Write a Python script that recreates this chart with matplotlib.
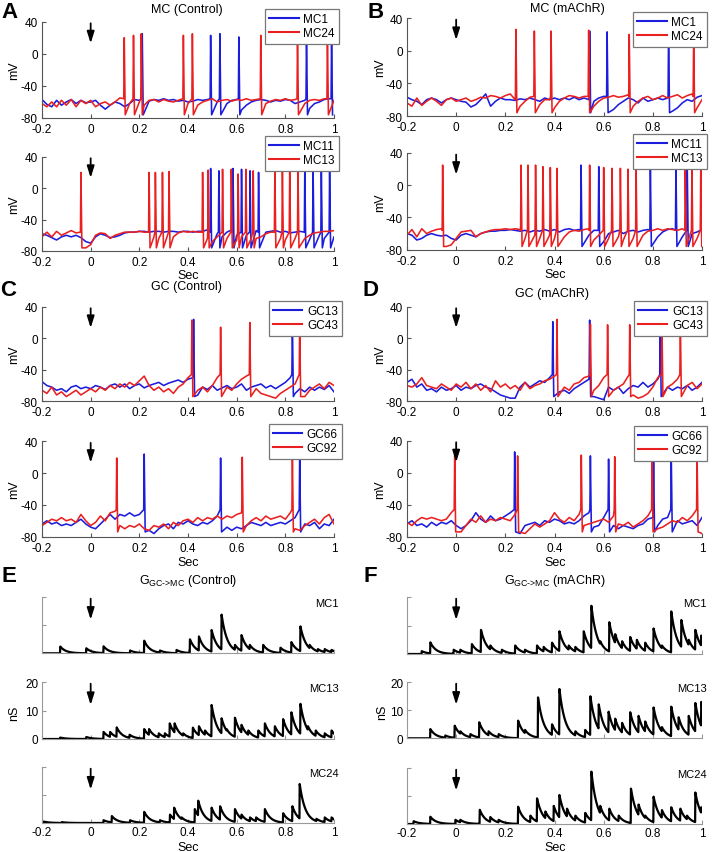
import numpy as np
import matplotlib
matplotlib.use('Agg')
import matplotlib.pyplot as plt
from matplotlib.lines import Line2D

plt.rcParams['font.family'] = ['Liberation Sans', 'DejaVu Sans']
plt.rcParams['mathtext.fontset'] = 'custom'
plt.rcParams['mathtext.rm'] = 'Liberation Sans'

W, H = 712, 853
BLUE = '#1c1cdc'
RED = '#ea2020'

# baseline membrane potential sampled every 20 ms from -0.2 to 1.0 s
t_base = np.round(np.arange(-0.2, 1.0001, 0.02), 3)

# ---- A: MC (Control) ----
mc1_ctrl = [-57, -63, -66, -58, -64, -60, -57, -62, -58, -61,
            -60, -58, -64, -69, -64, -60, -62, -66, -62, -57,
            -58, -64, -59, -57, -58, -56, -58, -57, -59, -58,
            -60, -59, -57, -58, -57, -62, -60, -68, -62, -58,
            -57, -70, -64, -60, -58, -57, -58, -60, -58, -59,
            -57, -58, -62, -60, -58, -68, -62, -60, -57, -56,
            -74]
mc1_ctrl_spk = [0.212, 0.493, 0.531, 0.609, 0.887, 0.99]
mc1_ctrl_pk = [25, 23, 25, 21, 22, 22]

mc24_ctrl = [-62, -66, -60, -66, -58, -64, -57, -66, -58, -62,
             -58, -66, -62, -60, -64, -60, -55, -57, -62, -58,
             -60, -64, -58, -57, -60, -57, -59, -60, -58, -57,
             -62, -60, -64, -60, -58, -56, -60, -58, -57, -59,
             -57, -58, -56, -58, -57, -56, -62, -59, -57, -58,
             -56, -58, -57, -60, -62, -58, -57, -58, -56, -60,
             -58]
mc24_ctrl_spk = [0.138, 0.176, 0.208, 0.381, 0.418, 0.699, 0.85, 0.973]
mc24_ctrl_pk = [20, 23, 25, 23, 25, 23, 22, 22]

mc11_ctrl = [-58, -60, -63, -66, -62, -60, -62, -60, -63, -68,
             -70, -62, -58, -60, -63, -62, -60, -57, -56, -56,
             -55, -55, -56, -55, -55, -56, -55, -55, -56, -55,
             -55, -56, -55, -55, -53, -60, -58, -62, -56, -53,
             -60, -55, -60, -57, -54, -60, -56, -55, -54, -56,
             -55, -57, -56, -55, -54, -65, -62, -60, -64, -58,
             -62]
mc11_ctrl_spk = [0.493, 0.527, 0.585, 0.62, 0.655, 0.69, 0.88, 0.914, 0.948, 0.982]
mc11_ctrl_pk = [25, 22, 25, 24, 22, 20, 24, 24, 22, 24]

mc13_ctrl = [-62, -56, -62, -55, -60, -57, -54, -57, -57, -76,
             -72, -60, -57, -58, -64, -60, -58, -56, -56, -56,
             -55, -56, -56, -62, -64, -60, -60, -62, -57, -55,
             -56, -55, -56, -60, -64, -68, -62, -58, -64, -60,
             -66, -62, -60, -64, -64, -62, -58, -56, -60, -64,
             -66, -60, -64, -70, -64, -60, -57, -56, -55, -55,
             -54]
mc13_ctrl_spk = [-0.04, 0.24, 0.266, 0.295, 0.322, 0.46, 0.483, 0.542, 0.578,
                 0.606, 0.638, 0.668, 0.757, 0.788, 0.818, 0.852]
mc13_ctrl_pk = [20, 20, 20, 20, 21, 20, 23, 24, 24, 18, 24, 22, 23, 21, 22, 22]

# ---- B: MC (mAChR) ----
mc1_ach = [-57, -60, -62, -66, -60, -58, -60, -64, -60, -58,
           -60, -62, -63, -69, -66, -60, -53, -68, -62, -58,
           -60, -60, -61, -59, -60, -58, -60, -62, -58, -60,
           -58, -60, -58, -60, -57, -60, -58, -60, -62, -58,
           -56, -60, -72, -66, -62, -58, -60, -64, -58, -62,
           -60, -58, -60, -58, -74, -70, -64, -60, -62, -57,
           -55]
mc1_ach_spk = [0.543, 0.614, 0.864]
mc1_ach_pk = [24, 23, 22]

mc24_ach = [-64, -68, -58, -67, -62, -58, -62, -67, -60, -58,
            -62, -60, -58, -62, -60, -57, -58, -55, -56, -58,
            -55, -53, -60, -68, -62, -57, -60, -66, -60, -60,
            -70, -62, -58, -55, -56, -58, -56, -60, -68, -62,
            -58, -57, -55, -57, -56, -54, -68, -62, -58, -56,
            -60, -58, -55, -58, -56, -54, -58, -55, -53, -70,
            -60]
mc24_ach_spk = [0.243, 0.318, 0.386, 0.539, 0.704, 0.966]
mc24_ach_pk = [26, 24, 24, 25, 20, 20]

mc11_ach = [-60, -62, -68, -66, -62, -60, -62, -63, -62, -66,
            -68, -62, -60, -62, -64, -60, -58, -57, -57, -56,
            -56, -55, -56, -57, -56, -58, -56, -57, -55, -57,
            -55, -58, -55, -54, -56, -55, -72, -62, -56, -60,
            -70, -60, -58, -56, -60, -57, -56, -58, -56, -55,
            -75, -64, -58, -55, -54, -60, -64, -60, -60, -58,
            -55]
mc11_ach_spk = [0.508, 0.58, 0.79, 0.894, 0.94]
mc11_ach_pk = [25, 23, 24, 24, 24]

mc13_ach = [-62, -55, -64, -54, -60, -57, -55, -54, -76, -74,
            -66, -58, -57, -56, -64, -60, -58, -56, -55, -55,
            -54, -55, -54, -55, -66, -60, -62, -66, -60, -62,
            -66, -72, -64, -58, -56, -57, -55, -54, -68, -62,
            -60, -66, -60, -64, -68, -60, -66, -70, -62, -57,
            -56, -54, -56, -54, -55, -56, -54, -66, -60, -66,
            -75]
mc13_ach_spk = [-0.055, 0.264, 0.292, 0.323, 0.353, 0.383, 0.41, 0.543, 0.6,
                0.634, 0.668, 0.699, 0.732, 0.932, 0.959, 0.995]
mc13_ach_pk = [25, 25, 25, 25, 23, 22, 21, 25, 22, 21, 21, 20, 20, 22, 22, 22]

# ---- C: GC (Control) ----
gc13_ctrl = [-55, -60, -62, -66, -64, -68, -62, -60, -64, -62,
             -64, -60, -62, -65, -60, -58, -62, -58, -64, -60,
             -58, -63, -60, -58, -56, -60, -57, -55, -53, -56,
             -52, -50, -72, -62, -65, -60, -66, -63, -60, -64,
             -62, -58, -66, -62, -60, -58, -63, -60, -64, -60,
             -56, -50, -70, -64, -68, -62, -66, -62, -65, -60,
             -68]
gc13_ctrl_spk = [0.423, 0.829]
gc13_ctrl_pk = [24, 22]

gc43_ctrl = [-66, -70, -62, -72, -68, -74, -70, -66, -72, -68,
             -64, -68, -62, -66, -60, -64, -58, -62, -56, -60,
             -54, -48, -60, -66, -62, -68, -64, -70, -62, -58,
             -50, -72, -66, -62, -68, -60, -50, -70, -62, -66,
             -58, -52, -48, -72, -64, -70, -72, -74, -76, -70,
             -66, -62, -58, -52, -74, -66, -62, -58, -64, -56,
             -60]
gc43_ctrl_spk = [0.416, 0.534, 0.654, 0.859]
gc43_ctrl_pk = [23, 14, 20, 22]

gc66_ctrl = [-64, -60, -64, -62, -66, -64, -66, -62, -58, -64,
             -68, -70, -64, -58, -52, -58, -52, -54, -50, -54,
             -52, -50, -72, -76, -70, -66, -64, -70, -62, -64,
             -60, -64, -66, -62, -64, -60, -54, -66, -68, -72,
             -68, -70, -66, -62, -64, -66, -62, -66, -64, -62,
             -64, -60, -56, -54, -64, -66, -62, -70, -64, -66,
             -58]
gc66_ctrl_spk = [0.22, 0.534, 0.859]
gc66_ctrl_pk = [24, 19, 20]

gc92_ctrl = [-66, -62, -58, -60, -56, -60, -58, -62, -52, -60,
             -66, -62, -54, -60, -50, -48, -66, -70, -66, -68,
             -64, -70, -72, -66, -68, -64, -70, -62, -66, -60,
             -58, -62, -56, -60, -56, -58, -54, -58, -54, -56,
             -52, -50, -66, -60, -56, -60, -54, -58, -56, -54,
             -58, -50, -70, -72, -66, -62, -58, -64, -56, -52,
             -64]
gc92_ctrl_spk = [0.107, 0.623, 0.829]
gc92_ctrl_pk = [19, 20, 21]

# ---- D: GC (mAChR) ----
gc13_ach = [-56, -52, -62, -58, -66, -64, -68, -62, -66, -64,
            -60, -66, -62, -64, -60, -58, -62, -64, -68, -72,
            -74, -76, -76, -62, -56, -62, -58, -54, -56, -50,
            -72, -68, -66, -70, -64, -60, -56, -52, -74, -76,
            -78, -62, -66, -62, -70, -64, -60, -62, -56, -62,
            -58, -52, -68, -62, -66, -62, -64, -60, -66, -62,
            -56]
gc13_ach_spk = [0.393, 0.543, 0.83]
gc13_ach_pk = [21, 23, 22]

gc43_ach = [-60, -62, -58, -50, -60, -62, -64, -58, -62, -66,
            -58, -62, -56, -64, -58, -66, -60, -68, -54, -62,
            -58, -64, -60, -66, -56, -64, -60, -58, -54, -52,
            -48, -66, -62, -66, -58, -56, -50, -48, -66, -60,
            -50, -70, -66, -62, -58, -48, -72, -76, -74, -70,
            -62, -50, -72, -62, -58, -52, -66, -60, -56, -64,
            -58]
gc43_ach_spk = [0.41, 0.546, 0.616, 0.706, 0.837, 0.912]
gc43_ach_pk = [24, 18, 17, 17, 22, 22]

gc66_ach = [-64, -60, -66, -64, -68, -62, -66, -62, -64, -60,
            -66, -70, -66, -60, -50, -58, -62, -54, -60, -58,
            -54, -50, -70, -76, -66, -64, -62, -66, -60, -62,
            -58, -60, -64, -62, -64, -60, -54, -50, -68, -66,
            -56, -70, -66, -70, -66, -68, -70, -66, -64, -58,
            -56, -66, -58, -56, -68, -60, -64, -62, -60, -66,
            -56]
gc66_ach_spk = [0.238, 0.546, 0.62, 0.803, 0.875]
gc66_ach_pk = [26, 21, 17, 15, 22]

gc92_ach = [-62, -66, -60, -56, -58, -56, -58, -60, -58, -50,
            -72, -74, -66, -58, -62, -54, -62, -58, -60, -56,
            -58, -60, -52, -70, -76, -70, -64, -68, -64, -60,
            -50, -58, -62, -56, -60, -52, -66, -64, -62, -60,
            -58, -62, -54, -64, -66, -62, -68, -64, -60, -54,
            -66, -70, -68, -64, -60, -62, -56, -60, -54, -50,
            -76]
gc92_ach_spk = [-0.006, 0.25, 0.509, 0.645, 0.797, 0.98]
gc92_ach_pk = [22, 21, 22, 20, 22, 21]

# ---- E/F: G GC->MC, synaptic events (time s, peak nS) ----
g_mc1_ctrl_t = [-0.125, -0.018, 0.053, 0.162, 0.22, 0.285, 0.353, 0.408, 0.445, 0.497, 0.538,
                0.593, 0.62, 0.654, 0.709, 0.78, 0.825, 0.862, 0.9, 0.934, 0.962, 0.99]
g_mc1_ctrl_a = [2.4, 1.8, 2.5, 1.0, 4.5, 1.0, 1.2, 5.0, 6.0, 8.3, 13.8,
                3.0, 6.5, 3.0, 3.0, 2.0, 4.0, 9.6, 3.0, 1.5, 1.5, 1.2]
g_mc13_ctrl_t = [-0.125, -0.018, 0.053, 0.08, 0.107, 0.16, 0.22, 0.24, 0.28, 0.305, 0.325,
                 0.345, 0.38, 0.42, 0.445, 0.47, 0.497, 0.538, 0.559, 0.593, 0.62, 0.648,
                 0.689, 0.716, 0.757, 0.791, 0.825, 0.862, 0.893, 0.925, 0.962, 0.99]
g_mc13_ctrl_a = [0.5, 0.7, 2.5, 2.5, 4.1, 1.5, 3.5, 3.5, 2.0, 2.0, 5.5,
                 5.5, 2.0, 4.0, 4.5, 3.0, 12.0, 7.3, 3.5, 7.5, 5.0, 3.0,
                 3.0, 5.5, 4.5, 7.0, 9.4, 12.4, 4.5, 3.0, 2.0, 3.0]
g_mc24_ctrl_t = [-0.193, -0.118, 0.053, 0.087, 0.162, 0.22, 0.285, 0.326, 0.343, 0.374, 0.428,
                 0.442, 0.497, 0.532, 0.593, 0.62, 0.655, 0.68, 0.716, 0.791, 0.829, 0.859,
                 0.893, 0.928, 0.962, 0.99]
g_mc24_ctrl_a = [0.5, 0.3, 1.0, 2.5, 1.0, 4.0, 1.0, 3.0, 5.5, 2.0, 5.0,
                 8.0, 5.5, 6.0, 5.0, 3.0, 2.0, 2.0, 5.0, 3.5, 6.0, 14.0,
                 2.5, 1.5, 2.0, 2.0]
g_mc1_ach_t = [-0.14, -0.105, -0.01, 0.017, 0.064, 0.101, 0.139, 0.186, 0.24, 0.28, 0.329,
               0.356, 0.39, 0.42, 0.458, 0.485, 0.519, 0.55, 0.586, 0.623, 0.647, 0.675,
               0.708, 0.735, 0.769, 0.803, 0.837, 0.875, 0.916, 0.946, 0.973, 0.997]
g_mc1_ach_a = [1.0, 4.1, 1.5, 1.5, 3.5, 8.5, 3.0, 1.5, 3.0, 1.5, 3.0,
               2.5, 4.0, 8.0, 3.0, 2.5, 8.0, 17.0, 4.5, 11.2, 7.0, 4.5,
               6.0, 5.0, 4.0, 9.0, 3.0, 15.0, 12.0, 5.0, 8.5, 6.5]
g_mc13_ach_t = [-0.105, -0.044, -0.006, 0.017, 0.058, 0.094, 0.132, 0.173, 0.252, 0.28, 0.333,
                0.36, 0.39, 0.42, 0.451, 0.485, 0.525, 0.546, 0.58, 0.62, 0.647, 0.675,
                0.708, 0.742, 0.769, 0.803, 0.837, 0.875, 0.905, 0.946, 0.973, 0.997]
g_mc13_ach_a = [3.3, 1.0, 4.5, 2.5, 1.5, 5.7, 2.5, 1.5, 6.3, 3.0, 14.6,
                4.5, 5.0, 17.6, 4.0, 2.5, 3.0, 15.0, 12.1, 9.5, 7.0, 5.5,
                9.3, 8.0, 6.0, 11.0, 4.0, 11.3, 7.5, 8.0, 12.6, 13.0]
g_mc24_ach_t = [-0.173, -0.105, -0.003, 0.017, 0.096, 0.139, 0.173, 0.252, 0.302, 0.329,
                0.363, 0.397, 0.42, 0.451, 0.485, 0.525, 0.55, 0.586, 0.623, 0.661,
                0.711, 0.742, 0.769, 0.803, 0.837, 0.875, 0.912, 0.939, 0.973, 0.997]
g_mc24_ach_a = [1.0, 2.6, 1.5, 1.5, 5.1, 2.5, 1.5, 6.2, 3.0, 9.2,
                4.5, 6.5, 10.4, 5.5, 3.0, 4.0, 18.8, 6.5, 5.5, 3.0,
                12.7, 7.0, 3.0, 9.8, 5.0, 6.0, 5.5, 3.0, 11.3, 6.0]

xticks = [-0.2, 0, 0.2, 0.4, 0.6, 0.8, 1]
xticklabels = ['-0.2', '0', '0.2', '0.4', '0.6', '0.8', '1']


def spike_trace(base, spikes, peaks, thr, trough):
    # baseline samples plus three vertices per spike (threshold, peak, reset)
    pts = [(tb, v) for tb, v in zip(t_base, base)
           if not any(ts - 0.002 <= tb <= ts + 0.01 for ts in spikes)]
    for ts, pk in zip(spikes, peaks):
        pts += [(ts - 0.002, thr), (ts, pk), (ts + 0.004, trough)]
    pts.sort()
    return [p[0] for p in pts], [p[1] for p in pts]


def cond_trace(times, amps, tau=0.023):
    t = np.arange(-0.2, 1.0005, 0.001)
    dt = t[:, None] - np.array(times)[None, :]
    g = np.where(dt >= 0, np.array(amps)[None, :] * np.exp(-np.clip(dt, 0, None) / tau), 0)
    return t, g.max(axis=1)


fig = plt.figure(figsize=(W / 100, H / 100), dpi=100)


def px_axes(l, t, r, b):
    return fig.add_axes([l / W, 1 - b / H, (r - l) / W, (b - t) / H])


def arrow(ax, y0, y1):
    ax.annotate('', xy=(0, y1), xytext=(0, y0),
                arrowprops=dict(arrowstyle='-|>,head_width=0.22,head_length=0.7',
                                color='k', lw=1.3, shrinkA=0, shrinkB=0))


def vpanel(rect, blue, red, names, is_gc, leg_rt):
    ax = px_axes(*rect)
    thr, trough = (-46, -74) if is_gc else (-56, -76)
    xb, yb = spike_trace(*blue, thr, trough)
    xr, yr = spike_trace(*red, thr, trough)
    ax.plot(xb, yb, color=BLUE, lw=1.15)
    ax.plot(xr, yr, color=RED, lw=1.15)
    ax.set_xlim(-0.2, 1)
    ax.set_ylim(-80, 40)
    ax.set_xticks(xticks)
    ax.set_xticklabels(xticklabels)
    ax.set_yticks([-80, -40, 0, 40])
    ax.set_yticklabels(['-80', '-40', '0', '40'])
    for s in ['top', 'right']:
        ax.spines[s].set_visible(False)
    for s in ['left', 'bottom']:
        ax.spines[s].set_color('#555555')
    ax.tick_params(direction='in', length=3, labelsize=8.5, color='#555555')
    ax.tick_params(axis='x', pad=3.5)
    ax.tick_params(axis='y', pad=3)
    arrow(ax, 38, 13)
    handles = [Line2D([], [], color=BLUE, lw=1.5), Line2D([], [], color=RED, lw=1.5)]
    ax.legend(handles, names, loc='upper right', bbox_to_anchor=(leg_rt[0] / W, 1 - leg_rt[1] / H),
              bbox_transform=fig.transFigure, borderaxespad=0, fancybox=False,
              edgecolor='#777777', framealpha=1, fontsize=8.5, handlelength=2.5,
              handletextpad=0.4, labelspacing=0.2, borderpad=0.35)
    ax.legend_.get_frame().set_linewidth(0.9)
    fig.text(14 / W if rect[0] < 200 else 380 / W, 1 - (rect[1] + rect[3]) / 2 / H, 'mV',
             rotation=90, ha='center', va='center', fontsize=9)
    return ax


LX = (42, 334)
RX = (407, 702)

vpanel((LX[0], 22.7, LX[1], 119), (mc1_ctrl, mc1_ctrl_spk, mc1_ctrl_pk),
       (mc24_ctrl, mc24_ctrl_spk, mc24_ctrl_pk), ['MC1', 'MC24'], False, (339, 10))
vpanel((LX[0], 157.7, LX[1], 252), (mc11_ctrl, mc11_ctrl_spk, mc11_ctrl_pk),
       (mc13_ctrl, mc13_ctrl_spk, mc13_ctrl_pk), ['MC11', 'MC13'], False, (339, 137))
vpanel((RX[0], 19, RX[1], 117), (mc1_ach, mc1_ach_spk, mc1_ach_pk),
       (mc24_ach, mc24_ach_spk, mc24_ach_pk), ['MC1', 'MC24'], False, (707, 13))
vpanel((RX[0], 154, RX[1], 250.7), (mc11_ach, mc11_ach_spk, mc11_ach_pk),
       (mc13_ach, mc13_ach_spk, mc13_ach_pk), ['MC11', 'MC13'], False, (707, 135))
vpanel((LX[0], 307.7, LX[1], 402.3), (gc13_ctrl, gc13_ctrl_spk, gc13_ctrl_pk),
       (gc43_ctrl, gc43_ctrl_spk, gc43_ctrl_pk), ['GC13', 'GC43'], True, (342, 302))
vpanel((LX[0], 442.3, LX[1], 537.7), (gc66_ctrl, gc66_ctrl_spk, gc66_ctrl_pk),
       (gc92_ctrl, gc92_ctrl_spk, gc92_ctrl_pk), ['GC66', 'GC92'], True, (342, 425))
vpanel((RX[0], 307.7, RX[1], 402.3), (gc13_ach, gc13_ach_spk, gc13_ach_pk),
       (gc43_ach, gc43_ach_spk, gc43_ach_pk), ['GC13', 'GC43'], True, (707, 302))
vpanel((RX[0], 441.7, RX[1], 537.7), (gc66_ach, gc66_ach_spk, gc66_ach_pk),
       (gc92_ach, gc92_ach_spk, gc92_ach_pk), ['GC66', 'GC92'], True, (707, 427))


def gpanel(rect, times, amps, name, row):
    ax = px_axes(*rect)
    t, g = cond_trace(times, amps)
    ax.plot(t, g, color='k', lw=1.6)
    ax.set_xlim(-0.2, 1)
    ax.set_ylim(0, 20)
    ax.set_xticks(xticks)
    ax.set_yticks([0, 10, 20])
    if row == 2:
        ax.set_xticklabels(xticklabels)
    else:
        ax.set_xticklabels([])
    if row == 1:
        ax.set_yticklabels(['0', '10', '20'])
    else:
        ax.set_yticklabels([])
    for s in ['top', 'right']:
        ax.spines[s].set_visible(False)
    for s in ['left', 'bottom']:
        ax.spines[s].set_color('#999999')
    ax.tick_params(direction='in', length=3, labelsize=8.5, color='#999999', pad=2.5)
    arrow(ax, 19.5, 12)
    ax.text(1.015, 0.9, name, transform=ax.transAxes, ha='right', va='center', fontsize=8)
    return ax


gpanel((LX[0], 598.3, LX[1], 654.3), g_mc1_ctrl_t, g_mc1_ctrl_a, 'MC1', 0)
gpanel((LX[0], 683.3, LX[1], 740), g_mc13_ctrl_t, g_mc13_ctrl_a, 'MC13', 1)
gpanel((LX[0], 768.3, LX[1], 824), g_mc24_ctrl_t, g_mc24_ctrl_a, 'MC24', 2)
gpanel((RX[0], 598.3, RX[1], 655), g_mc1_ach_t, g_mc1_ach_a, 'MC1', 0)
gpanel((RX[0], 683.3, RX[1], 739.3), g_mc13_ach_t, g_mc13_ach_a, 'MC13', 1)
gpanel((RX[0], 769.3, RX[1], 825), g_mc24_ach_t, g_mc24_ach_a, 'MC24', 2)


def ftext(x, y, s, **kw):
    fig.text(x / W, 1 - y / H, s, ha=kw.pop('ha', 'center'), va=kw.pop('va', 'center'), **kw)


# panel titles
ftext(187, 10, 'MC (Control)', fontsize=9)
ftext(567, 9, 'MC (mAChR)', fontsize=9)
ftext(186, 287, 'GC (Control)', fontsize=9)
ftext(552, 294, 'GC (mAChR)', fontsize=9)
ftext(188, 581, r'G$_{\text{GC->MC}}$ (Control)', fontsize=9)
ftext(555, 581, r'G$_{\text{GC->MC}}$ (mAChR)', fontsize=9)

# x labels
for x, y in [(188, 276), (555, 275), (188, 563), (555, 563), (188, 848), (555, 848)]:
    ftext(x, y, 'Sec', fontsize=9)

# nS labels
ftext(14, 713, 'nS', fontsize=9, rotation=90)
ftext(382, 712, 'nS', fontsize=9, rotation=90)

# panel letters
for x, y, s in [(9, 12, 'A'), (376, 12, 'B'), (8, 290, 'C'), (370, 290, 'D'),
                (9, 577, 'E'), (370, 577, 'F')]:
    ftext(x, y, s, fontsize=16, fontweight='bold')

fig.savefig('out.png', dpi=100)
